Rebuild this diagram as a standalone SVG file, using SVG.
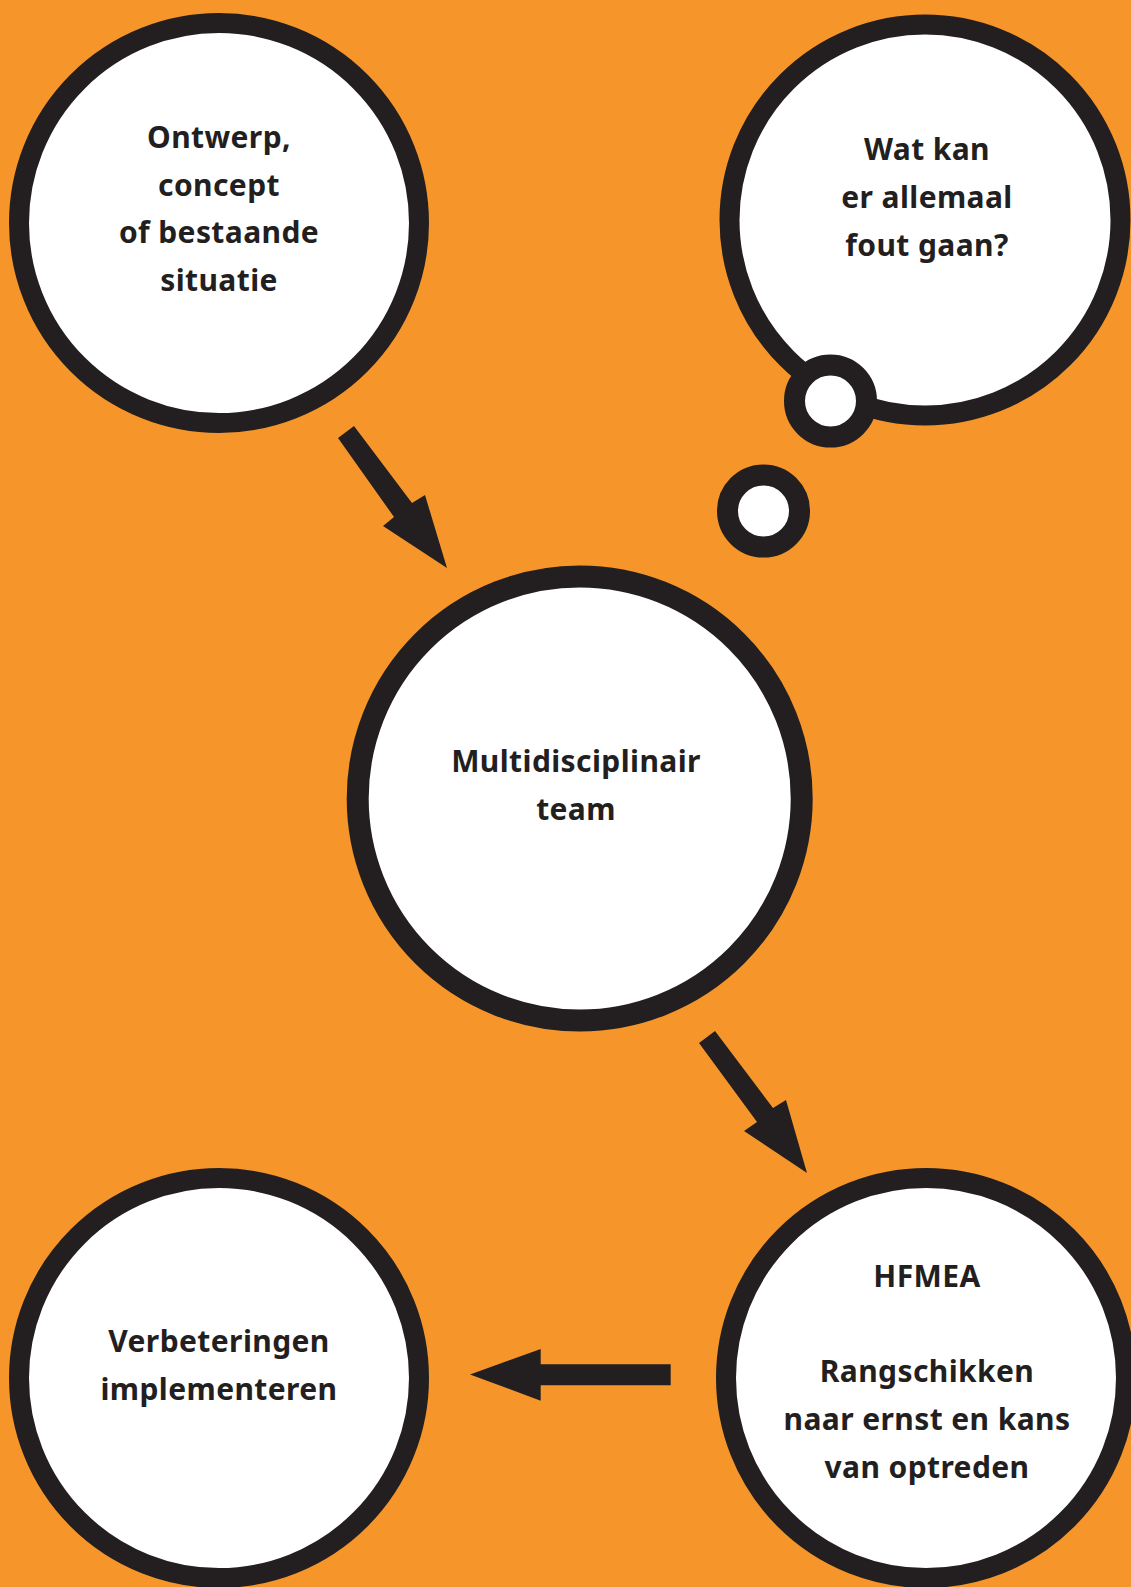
<svg xmlns="http://www.w3.org/2000/svg" width="1131" height="1587" viewBox="0 0 1131 1587">
  <style>
    .bubble { fill: #ffffff; stroke: #231f20; }
    .big { stroke-width: 20; }
    .small { stroke-width: 21; }
    .arrow { fill: #231f20; }
    text { font-family: "Noto Sans", "Open Sans", sans-serif; font-weight: bold; font-size: 30px; fill: #231f20; text-anchor: middle; letter-spacing: 0.4px; }
  </style>
  <rect x="0" y="0" width="1131" height="1587" fill="#f6962a"/>

  <g id="node-ontwerp">
    <circle class="bubble big" cx="219" cy="223" r="200"/>
    <text x="219" y="148">Ontwerp,</text>
    <text x="219" y="195.5">concept</text>
    <text x="219" y="243">of bestaande</text>
    <text x="219" y="290.5">situatie</text>
  </g>

  <g id="node-fout">
    <circle class="bubble big" cx="925" cy="220" r="195.5" stroke-width="19"/>
    <circle class="bubble small" cx="830.5" cy="401" r="36"/>
    <circle class="bubble small" cx="763.5" cy="511" r="36"/>
    <text x="927" y="160">Wat kan</text>
    <text x="927" y="208">er allemaal</text>
    <text x="927" y="255.5">fout gaan?</text>
  </g>

  <g id="node-team">
    <circle class="bubble" cx="579.7" cy="798.5" r="222" stroke-width="22"/>
    <text x="576" y="772">Multidisciplinair</text>
    <text x="576" y="819.5">team</text>
  </g>

  <g id="node-hfmea">
    <circle class="bubble big" cx="926" cy="1378" r="200"/>
    <text x="927" y="1287">HFMEA</text>
    <text x="927" y="1382">Rangschikken</text>
    <text x="927" y="1430">naar ernst en kans</text>
    <text x="927" y="1477.5">van optreden</text>
  </g>

  <g id="node-verbeteringen">
    <circle class="bubble big" cx="219" cy="1378" r="200"/>
    <text x="219" y="1352">Verbeteringen</text>
    <text x="219" y="1399.5">implementeren</text>
  </g>

  <g id="connectors">
    <polygon class="arrow" points="338,438 354,426 412,503 425,495 447,568 383,526 394,517"/>
    <polygon class="arrow" points="699,1043 715,1031 773,1108 786,1100 807,1173 744,1131 757,1122"/>
    <polygon class="arrow" points="670.7,1364.3 670.7,1385.3 540.7,1385.3 540.7,1400.7 470,1374.5 540.7,1349 540.7,1364.3"/>
  </g>
</svg>
